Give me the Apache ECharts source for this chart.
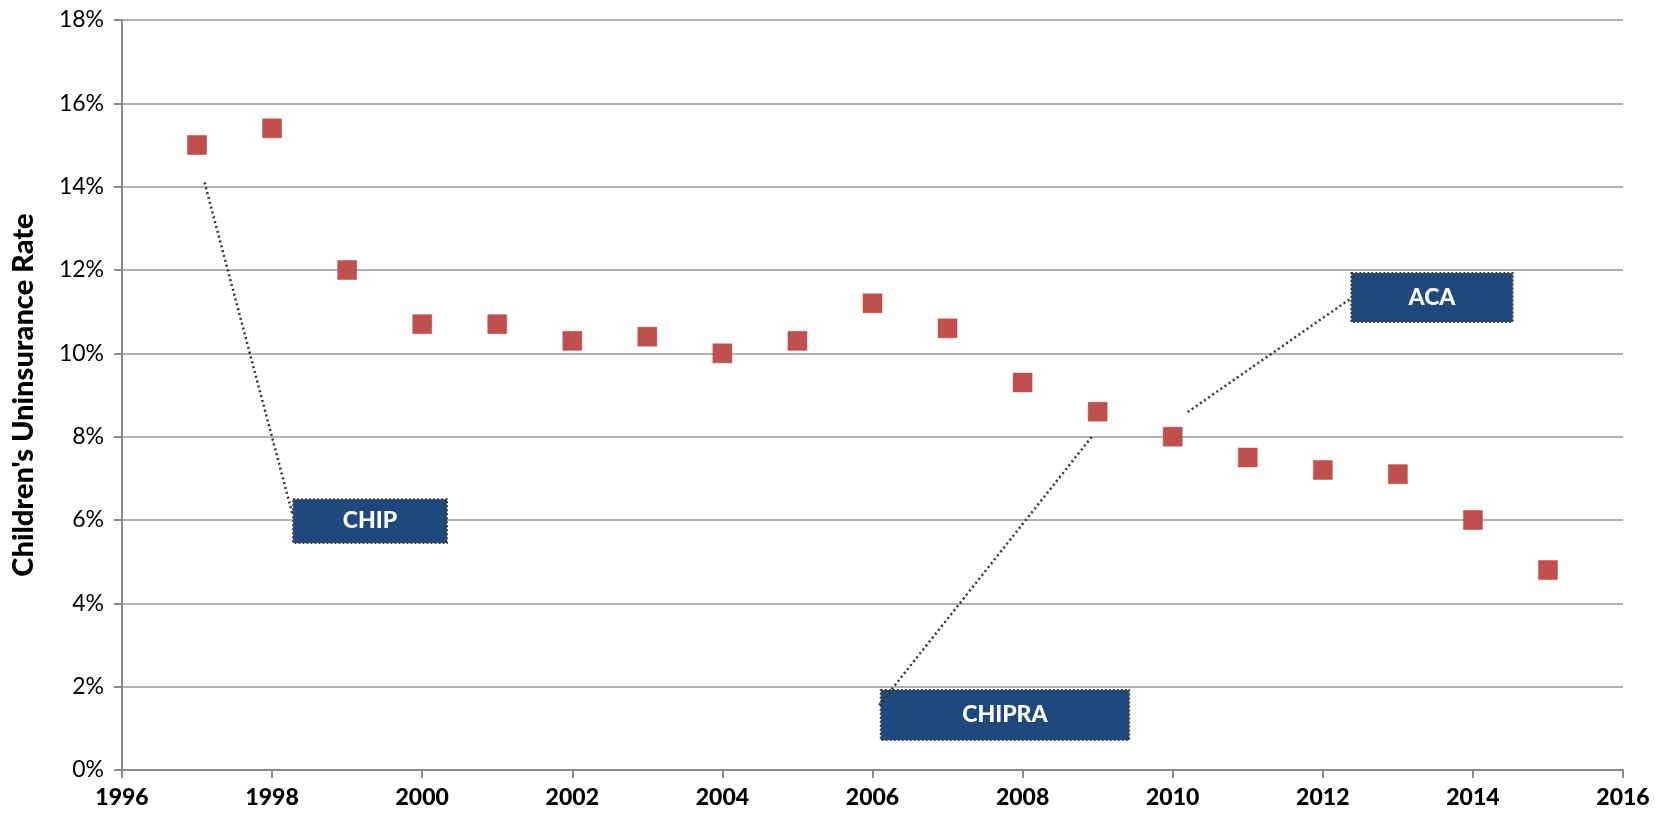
<!DOCTYPE html>
<html>
<head>
<meta charset="utf-8">
<script src="https://cdn.jsdelivr.net/npm/echarts@6/dist/echarts.min.js"></script>
<style>
html,body{margin:0;padding:0;background:#fff;}
#chart{width:1664px;height:818px;}
</style>
</head>
<body>
<div id="chart"></div>
<script>
const years = [1997,1998,1999,2000,2001,2002,2003,2004,2005,2006,2007,2008,2009,2010,2011,2012,2013,2014,2015];
const rates = [15.0,15.4,12.0,10.7,10.7,10.3,10.4,10.0,10.3,11.2,10.6,9.3,8.6,8.0,7.5,7.2,7.1,6.0,4.8];
const annotationLabels = ['CHIP','CHIPRA','ACA'];
const yAxisTitle = "Children's Uninsurance Rate";

// annotation layout (data coordinates)
const boxes = [
  {x0:1998.28, x1:2000.33, y0:5.45, y1:6.5},
  {x0:2006.11, x1:2009.42, y0:0.72, y1:1.92},
  {x0:2012.38, x1:2014.53, y0:10.75, y1:11.93}
];
const connectors = [
  [[1997.1,14.1],[1998.27,6.15]],
  [[2006.09,1.56],[2008.94,8.04]],
  [[2010.2,8.59],[2012.36,11.3]]
];

const font = 'Lato, "Open Sans", sans-serif';
const chart = echarts.init(document.getElementById('chart'), null, {renderer:'canvas'});
chart.setOption({
  animation:false,
  grid:{left:122,right:41,top:20,bottom:48,containLabel:false},
  xAxis:{
    type:'value',min:1996,max:2016,interval:2,
    axisLine:{show:true,onZero:false,lineStyle:{color:'#8a8a8a',width:2}},
    axisTick:{show:true,length:8,lineStyle:{color:'#8a8a8a',width:2}},
    splitLine:{show:false},
    axisLabel:{color:'#000',fontFamily:font,fontSize:23,fontWeight:900,margin:16,formatter:v=>String(v)}
  },
  yAxis:{
    type:'value',min:0,max:18,interval:2,
    name:yAxisTitle,nameLocation:'middle',nameGap:84,
    nameTextStyle:{color:'#000',fontFamily:font,fontSize:29,fontWeight:900},
    axisLine:{show:true,lineStyle:{color:'#8a8a8a',width:2}},
    axisTick:{show:true,length:8,lineStyle:{color:'#8a8a8a',width:2}},
    splitLine:{show:true,lineStyle:{color:'#999',width:1.5}},
    axisLabel:{color:'#000',fontFamily:font,fontSize:23,margin:18,formatter:'{value}%'}
  },
  series:[
    {
      type:'scatter',
      data:[],
      silent:true,
      markLine:{
        silent:true,symbol:['none','none'],
        lineStyle:{color:'#333',type:[2,3],width:2.5,opacity:1},
        label:{show:false},
        data:connectors.map(c=>[{coord:c[0]},{coord:c[1]}])
      },
      markArea:{
        silent:true,
        itemStyle:{color:'#1F497D',opacity:1,borderColor:'#404040',borderType:[2,2],borderWidth:2},
        label:{show:true,position:'inside',color:'#fff',fontFamily:font,fontWeight:900,fontSize:23},
        data:boxes.map((b,i)=>[{name:annotationLabels[i],coord:[b.x0,b.y1]},{coord:[b.x1,b.y0]}])
      },
      z:1
    },
    {
      type:'scatter',
      symbol:'rect',
      symbolSize:19,
      itemStyle:{color:'#C0504D',opacity:1,borderColor:'#B9474A',borderWidth:0.5},
      data:years.map((y,i)=>[y,rates[i]]),
      z:5
    }
  ]
});
</script>
</body>
</html>
